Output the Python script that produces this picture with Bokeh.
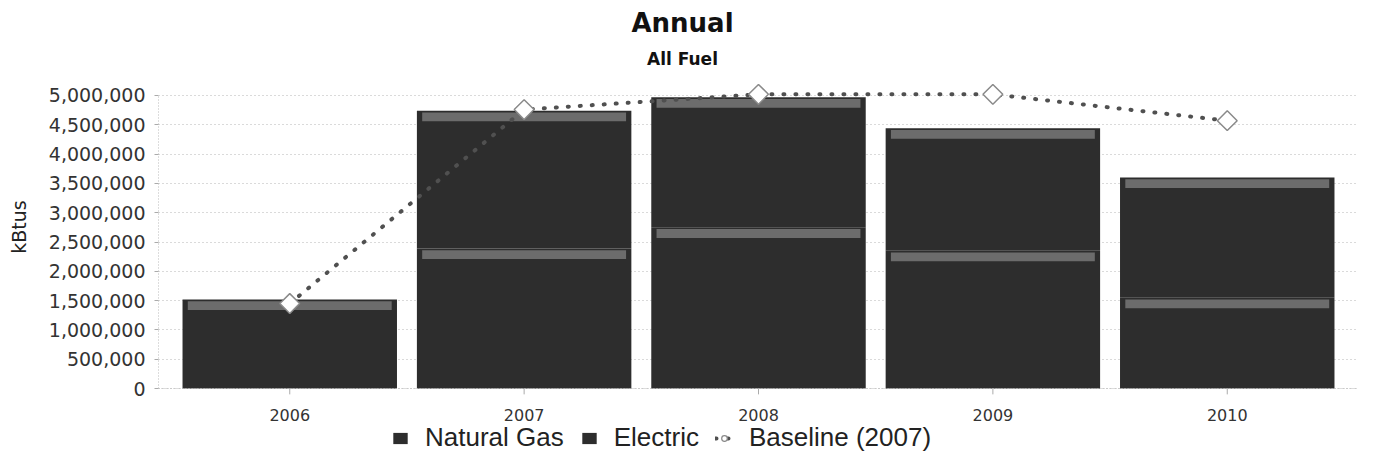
import numpy as np
from bokeh.plotting import figure
from bokeh.models import (ColumnDataSource, FactorRange, Range1d, NumeralTickFormatter,
                          FixedTicker, Legend, LegendItem, Label, Span)
from bokeh.core.properties import value
from bokeh.embed import file_html
from bokeh.resources import INLINE

years = ["2006", "2007", "2008", "2009", "2010"]
natural_gas = [1520000, 2390000, 2750000, 2350000, 1550000]
electric = [0, 2350000, 2220000, 2090000, 2050000]
baseline = [1450000, 4760000, 5020000, 5020000, 4570000]
y_ticks = [0, 500000, 1000000, 1500000, 2000000, 2500000, 3000000, 3500000, 4000000, 4500000, 5000000]
title_text = "Annual"
subtitle_text = "All Fuel"
y_label = "kBtus"

# frame covers the whole height; titles and legend live inside it
p = figure(width=1358, height=453,
           x_range=FactorRange(*years, range_padding=0.06, range_padding_units="absolute"),
           y_range=Range1d(-1109000, 6621000),
           output_backend="svg", toolbar_location=None, title=None,
           min_border_left=158, min_border_right=0, min_border_top=0, min_border_bottom=0)

src = ColumnDataSource(dict(years=years, gas=natural_gas, elec=electric, base=baseline))
bar_col = "#2d2d2d"
stack = p.vbar_stack(["gas", "elec"], x="years", width=0.915, source=src,
                     fill_color=[bar_col, bar_col], line_color=None)

# bevel highlight band at the top of each non-empty segment
g = np.array(natural_gas, dtype=float)
e = np.array(electric, dtype=float)
tops = np.concatenate([g, g + e])
heights = np.concatenate([g, e])
bx = list(years) * 2
mask = heights > 0
band_x = [x for x, m in zip(bx, mask) if m]
band_top = tops[mask]
p.vbar(x=band_x, top=band_top - 30000, bottom=band_top - 180000, width=0.87,
       fill_color="#6c6c6c", line_color=None)

base_line = p.line("years", "base", source=src, line_color="#505050", line_width=4,
                   line_dash="1 11", line_cap="round")
p.scatter("years", "base", source=src, marker="square", angle=np.pi / 4, size=14,
          fill_color="white", line_color="#8a8a8a", line_width=1.5)
leg_circle = p.scatter("years", "base", source=src, marker="circle", size=0,
                       fill_color="white", line_color="#888888", line_width=1.2)

# x axis drawn at zero
p.xaxis.visible = False
p.add_layout(Span(location=0, dimension="width", line_color="#bbbbbb", line_dash="1 2",
                  line_width=1))
p.segment(x0=years, y0=[0] * len(years), x1=years, y1=[-100000] * len(years),
          line_color="#aaaaaa", line_width=1)
p.text(x=years, y=[0] * len(years), text=years, y_offset=20, text_align="center",
       text_baseline="top", text_font=value("DejaVu Sans"), text_font_size="16px",
       text_color="#333333")

p.yaxis.ticker = FixedTicker(ticks=y_ticks)
p.yaxis.bounds = (0, 5000000)
p.yaxis.formatter = NumeralTickFormatter(format="0,0")
p.yaxis.major_label_text_font = "DejaVu Sans"
p.yaxis.major_label_text_font_size = "19px"
p.yaxis.major_label_text_color = "#333333"
p.yaxis.major_label_standoff = 9
p.yaxis.axis_label = y_label
p.yaxis.axis_label_text_font = "DejaVu Sans"
p.yaxis.axis_label_text_font_size = "19px"
p.yaxis.axis_label_text_font_style = "normal"
p.yaxis.axis_label_text_color = "#222222"
p.yaxis.axis_label_standoff = 16
p.yaxis.major_tick_out = 4
p.yaxis.major_tick_in = 0
p.yaxis.minor_tick_out = 0
p.yaxis.minor_tick_in = 0
p.yaxis.major_tick_line_color = "#aaaaaa"
p.yaxis.axis_line_color = "#bbbbbb"
p.yaxis.axis_line_dash = "1 2"

p.xgrid.grid_line_color = None
p.ygrid.grid_line_color = "#b5b5b5"
p.ygrid.grid_line_dash = "1 3"
p.outline_line_color = None

legend = Legend(items=[LegendItem(label="Natural Gas", renderers=[stack[0]]),
                       LegendItem(label="Electric", renderers=[stack[1]]),
                       LegendItem(label="Baseline (2007)", renderers=[base_line, leg_circle])],
                orientation="horizontal", location=(233, 0),
                label_text_font="Liberation Sans", label_text_font_size="26px",
                label_text_color="#222222",
                glyph_width=18, glyph_height=14, spacing=16, label_standoff=16,
                border_line_color=None, background_fill_alpha=0, padding=2, margin=0)
p.add_layout(legend, "center")

p.add_layout(Label(x=524, y=431, x_units="screen", y_units="screen", text=title_text,
                   text_align="center", text_baseline="middle", text_font="DejaVu Sans",
                   text_font_size="26px", text_font_style="bold", text_color="#111111"))
p.add_layout(Label(x=524, y=395, x_units="screen", y_units="screen", text=subtitle_text,
                   text_align="center", text_baseline="middle", text_font="DejaVu Sans",
                   text_font_size="17px", text_font_style="bold", text_color="#111111"))

open("out.html", "w").write(file_html(p, INLINE))
